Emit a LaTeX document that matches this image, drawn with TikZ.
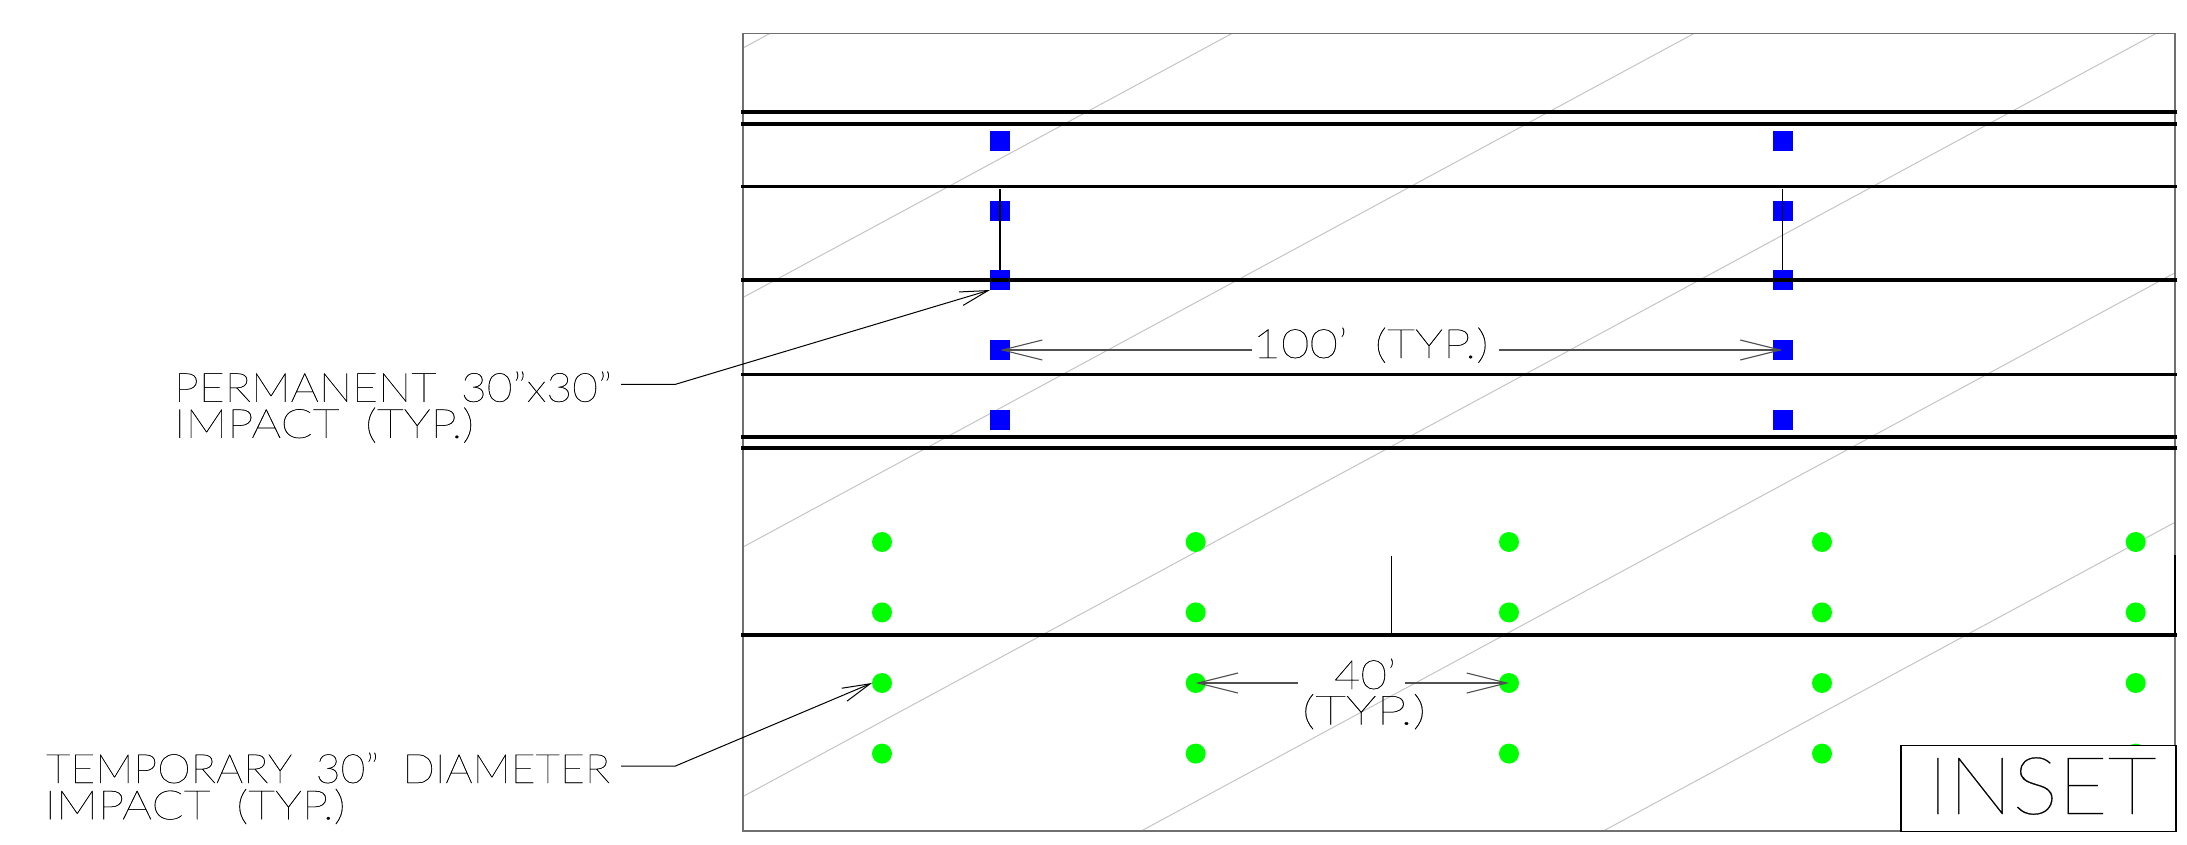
\documentclass[tikz,border=0pt]{standalone}
\usepackage{fontspec}
\usepackage{graphicx}
\usetikzlibrary{arrows.meta}
\newfontfamily\thinfont{Lato Hairline}[FakeBold=0.4]
\definecolor{framegray}{HTML}{707070}
\definecolor{hatchgray}{HTML}{C4C4C4}
\definecolor{dimgray}{HTML}{505050}
\newcommand{\lbl}[3]{\resizebox{#1pt}{\height}{\fontsize{#2}{#2}\selectfont\thinfont\spaceskip=0.55em #3}}
\tikzset{
  x=1pt,y=-1pt,
  frameline/.style={draw=framegray,line width=1.5pt},
  hatch/.style={draw=hatchgray,line width=1pt},
  thickbar/.style={draw=black,line width=3.8pt},
  midbar/.style={draw=black,line width=3pt},
  thinline/.style={draw=black,line width=1.3pt},
  impact/.style={rectangle,fill=blue,minimum size=20pt,inner sep=0pt,outer sep=0pt},
  temp/.style={circle,fill=green,minimum size=20pt,inner sep=0pt,outer sep=0pt},
  txt/.style={inner sep=0pt,outer sep=0pt,anchor=base west,text=black},
  leader/.style={draw=black,line width=1pt,-{Straight Barb[length=28pt,width=14pt]}},
  dim/.style={draw=dimgray,line width=1.1pt,-{Straight Barb[length=40pt,width=20pt]}},
}
\begin{document}
\begin{tikzpicture}
\useasboundingbox (0,0) rectangle (2187,845);
% hatch, clipped to the frame
\begin{scope}
  \clip (743,33.5) rectangle (2175,831);
  \foreach \h in {48,297.5,547,796.5,1046,1295.5,1545,1794.5}
    \draw[hatch] (743,\h) -- ({743+(\h-20)/0.54},20);
\end{scope}
\draw[frameline] (743,33.5) rectangle (2175,831);
\draw[draw=black,line width=1.5pt] (2175,555) -- (2175,635);
% impacts
\foreach \c/\x in {a/1000,b/1782.5}
  \foreach \r/\y in {1/141,2/211,3/280,4/350,5/420}
    \node[impact] (s\c\r) at (\x,\y) {};
\foreach \c/\x in {a/882,b/1195.7,c/1509,d/1822,e/2135.7}
  \foreach \r/\y in {1/542,2/612.4,3/683,4/753.6}
    \node[temp] (c\c\r) at (\x,\y) {};
% horizontal bars
\foreach \y in {112.3,123.7,280.3,437,448.3,635.2}
  \draw[thickbar] (741,\y) -- (2177,\y);
\foreach \y in {186.3,374.3}
  \draw[midbar] (741,\y) -- (2177,\y);
% vertical marks
\coordinate (va) at (1000,189.5);
\coordinate (vb) at (1782.5,189.5);
\coordinate (vc) at (1391,555.5);
\coordinate (vd) at (1391,635);
\draw[thinline] (va) -- (sa3.north);
\draw[thinline] (vb) -- (sb3.north);
\draw[draw=black,line width=1pt] (vc) -- (vd);
% inset
\node[draw=black,line width=1.5pt,fill=white,minimum width=275pt,minimum height=86pt,inner sep=0pt,anchor=north west] (inset) at (1900,744.7) {};
\node[txt] (insettxt) at (1927.5,814) {\lbl{229}{80}{INSET}};
% labels
\node[txt] (t1) at (174,401.8) {\lbl{438}{40.5}{PERMANENT 30”x30”}};
\node[txt] (t2) at (174,437.9) {\lbl{300}{40.5}{IMPACT (TYP.)}};
\node[txt] (t3) at (46,783) {\lbl{564}{40.5}{TEMPORARY 30” DIAMETER}};
\node[txt] (t4) at (44.5,819.3) {\lbl{301}{40.5}{IMPACT (TYP.)}};
\node[txt] (t100) at (1252.5,358) {\lbl{236}{40.5}{100’ (TYP.)}};
\node[txt] (t40) at (1334,689) {\lbl{62}{40.5}{40’}};
\node[txt] (ttyp) at (1302,724.5) {\lbl{124}{40.5}{(TYP.)}};
% leaders
\coordinate (la) at (621,384.3);
\coordinate (lb) at (675.5,384.3);
\coordinate (lc) at (621,766);
\coordinate (ld) at (675.5,766);
\draw[leader] (la) -- (lb) -- (sa3.south west);
\draw[leader] (lc) -- (ld) -- (ca3.west);
% dimensions
\coordinate (da) at (1251.6,350);
\coordinate (db) at (1499,350);
\coordinate (dc) at (1297.6,683);
\coordinate (dd) at (1405,683);
\draw[dim] (da) -- (sa4.center);
\draw[dim] (db) -- (sb4.center);
\draw[dim] (dc) -- (cb3.center);
\draw[dim] (dd) -- (cc3.center);
\end{tikzpicture}
\end{document}
